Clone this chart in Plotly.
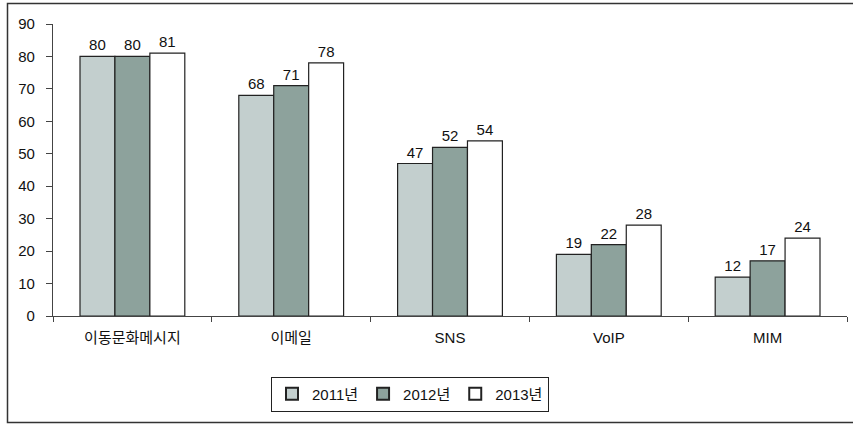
import plotly.graph_objects as go

categories = ["이동문화메시지", "이메일", "SNS", "VoIP", "MIM"]
series_names = ["2011년", "2012년", "2013년"]
values_2011 = [80, 68, 47, 19, 12]
values_2012 = [80, 71, 52, 22, 17]
values_2013 = [81, 78, 54, 28, 24]
y_ticks = [0, 10, 20, 30, 40, 50, 60, 70, 80, 90]

colors = ["#C3CFCE", "#8DA29C", "#FFFFFF"]
FONT = "Liberation Sans, Arial, Noto Sans CJK KR, sans-serif"

fig = go.Figure()
for name, vals, col in zip(series_names, [values_2011, values_2012, values_2013], colors):
    fig.add_trace(go.Bar(
        name=name, x=categories, y=vals,
        marker=dict(color=col, line=dict(color="#222222", width=1.2)),
        text=[str(v) for v in vals], textposition="outside",
        textfont=dict(family=FONT, size=15, color="#111111"),
        cliponaxis=False,
    ))

L, R, T, B = 53, 6, 24, 110
W, H = 853, 426
pw, ph = W - L - R, H - T - B

def px_x(p):
    return (p - L) / pw

def px_y(p):
    return (H - B - p) / ph

fig.update_layout(
    width=W, height=H,
    margin=dict(l=L, r=R, t=T, b=B),
    paper_bgcolor="white", plot_bgcolor="white",
    barmode="group", bargap=0.34, bargroupgap=0,
    font=dict(family=FONT, size=15, color="#111111"),
    showlegend=True,
    legend=dict(
        orientation="h", x=px_x(410), y=px_y(394),
        xanchor="center", yanchor="middle",
        bordercolor="#222222", borderwidth=1,
        font=dict(family=FONT, size=15, color="#111111"),
        itemsizing="constant",
    ),
    xaxis=dict(
        showline=True, linecolor="#444444", linewidth=1.2,
        ticks="outside", tickson="boundaries", ticklen=5, tickcolor="#444444",
        ticklabelstandoff=8,
        showgrid=False, zeroline=False,
        tickfont=dict(family=FONT, size=15, color="#111111"),
    ),
    yaxis=dict(
        range=[0, 90], tickvals=y_ticks,
        showline=True, linecolor="#444444", linewidth=1.2,
        ticks="outside", ticklen=6, tickcolor="#444444",
        ticklabelstandoff=8,
        showgrid=False, zeroline=False,
        tickfont=dict(family=FONT, size=15, color="#111111"),
    ),
    shapes=[dict(
        type="rect", xref="paper", yref="paper",
        x0=px_x(7.5), x1=px_x(870), y0=px_y(422.5), y1=px_y(3.5),
        line=dict(color="#333333", width=1.5), fillcolor="rgba(0,0,0,0)",
        layer="below",
    )],
)

fig.write_html("out.html", config={"displayModeBar": False},
               post_script="document.body.style.margin='0';document.body.style.overflow='hidden';")
